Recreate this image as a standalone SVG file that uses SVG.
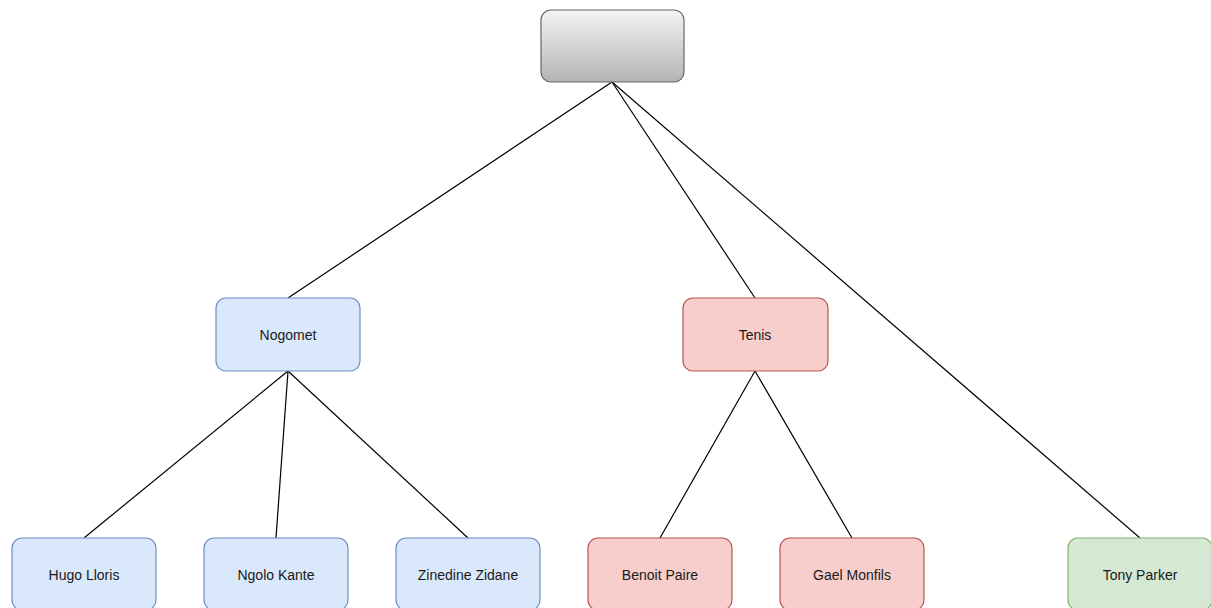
<svg xmlns="http://www.w3.org/2000/svg" width="1211" height="608" viewBox="0 0 1211 608">
  <defs>
    <linearGradient id="gray-grad" x1="0" y1="0" x2="0" y2="1">
      <stop offset="0" stop-color="#f5f5f5"/>
      <stop offset="1" stop-color="#b3b3b3"/>
    </linearGradient>
    <style>
      .edge { fill: none; stroke: #000000; stroke-width: 1.2; }
      .box { stroke-width: 1.2; }
      .blue { fill: #dae8fc; stroke: #6c8ebf; }
      .red { fill: #f8cecc; stroke: #b85450; }
      .green { fill: #d5e8d4; stroke: #82b366; }
      .gray { fill: url(#gray-grad); stroke: #666666; }
      .label { font-family: "Liberation Sans", Arial, sans-serif; font-size: 14px; fill: #1a1a1a; text-anchor: middle; dominant-baseline: central; }
    </style>
  </defs>
  <rect width="1211" height="608" fill="#ffffff"/>

  <!-- connectors -->
  <g id="connectors">
    <line class="edge" x1="612" y1="82" x2="288" y2="298"/>
    <line class="edge" x1="612" y1="82" x2="755" y2="298"/>
    <line class="edge" x1="612" y1="82" x2="1140" y2="538"/>
    <line class="edge" x1="288" y1="371" x2="84" y2="538"/>
    <line class="edge" x1="288" y1="371" x2="276" y2="538"/>
    <line class="edge" x1="288" y1="371" x2="468" y2="538"/>
    <line class="edge" x1="755" y1="371" x2="660" y2="538"/>
    <line class="edge" x1="755" y1="371" x2="852" y2="538"/>
  </g>

  <!-- nodes -->
  <g id="root">
    <rect class="box gray" x="541" y="10" width="143" height="72" rx="10" ry="10"/>
  </g>
  <g id="nogomet">
    <rect class="box blue" x="216" y="298" width="144" height="73" rx="10" ry="10"/>
    <text class="label" x="288" y="335">Nogomet</text>
  </g>
  <g id="tenis">
    <rect class="box red" x="683" y="298" width="145" height="73" rx="10" ry="10"/>
    <text class="label" x="755" y="335">Tenis</text>
  </g>
  <g id="hugo-lloris">
    <rect class="box blue" x="12" y="538" width="144" height="72" rx="10" ry="10"/>
    <text class="label" x="84" y="575">Hugo Lloris</text>
  </g>
  <g id="ngolo-kante">
    <rect class="box blue" x="204" y="538" width="144" height="72" rx="10" ry="10"/>
    <text class="label" x="276" y="575">Ngolo Kante</text>
  </g>
  <g id="zinedine-zidane">
    <rect class="box blue" x="396" y="538" width="144" height="72" rx="10" ry="10"/>
    <text class="label" x="468" y="575">Zinedine Zidane</text>
  </g>
  <g id="benoit-paire">
    <rect class="box red" x="588" y="538" width="144" height="72" rx="10" ry="10"/>
    <text class="label" x="660" y="575">Benoit Paire</text>
  </g>
  <g id="gael-monfils">
    <rect class="box red" x="780" y="538" width="144" height="72" rx="10" ry="10"/>
    <text class="label" x="852" y="575">Gael Monfils</text>
  </g>
  <g id="tony-parker">
    <rect class="box green" x="1068" y="538" width="144" height="72" rx="10" ry="10"/>
    <text class="label" x="1140" y="575">Tony Parker</text>
  </g>
</svg>
